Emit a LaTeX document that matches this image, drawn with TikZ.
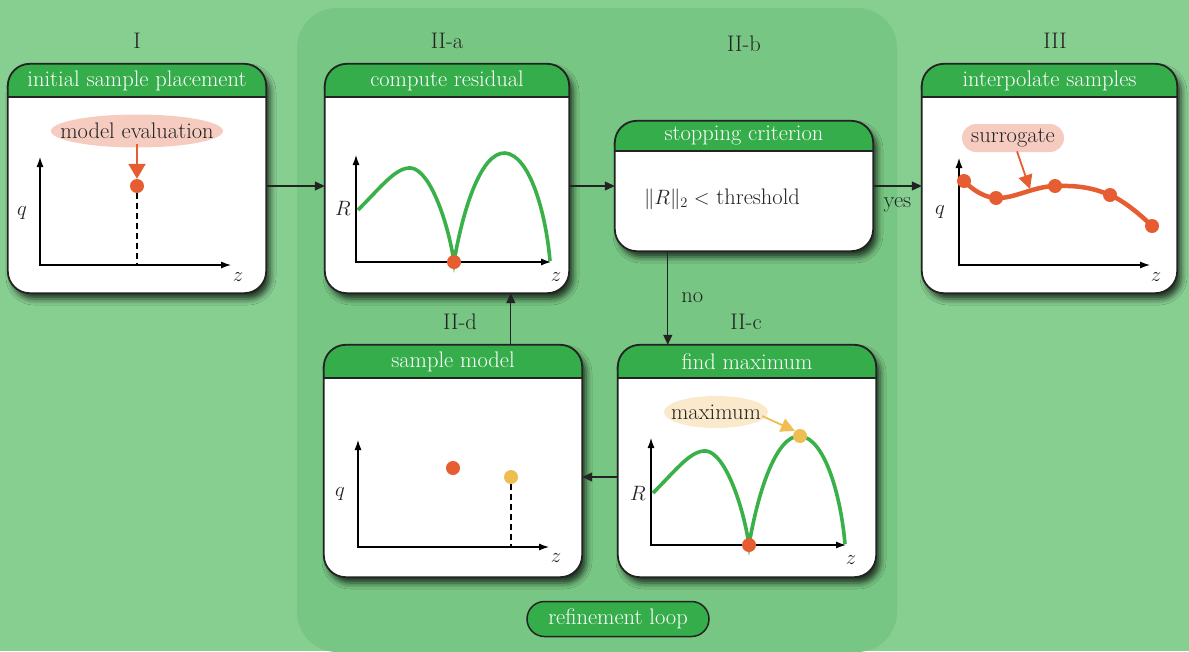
\documentclass[tikz,border=0pt]{standalone}
\usetikzlibrary{arrows.meta,shapes.geometric,shapes.misc,fit,shadows.blur}
\definecolor{bgout}{RGB}{135,206,145}
\definecolor{bgin}{RGB}{119,198,131}
\definecolor{tgreen}{RGB}{53,173,74}
\definecolor{bord}{RGB}{35,35,35}
\definecolor{orng}{RGB}{229,93,48}
\definecolor{cgreen}{RGB}{58,176,72}
\definecolor{yel}{RGB}{238,190,82}
\definecolor{pinkf}{RGB}{246,204,192}
\definecolor{creamf}{RGB}{250,233,203}
\newcommand\mypanel[7]{%
  \node[panelbg, fit={(#2,#3) (#4,#5)}] (#1) {};
  \begin{scope}
    \clip[rounded corners=22pt] (#1.south west) rectangle (#1.north east);
    \fill[tgreen] (#2,#3) rectangle (#4,#6);
  \end{scope}
  \draw[bordline] (#2,#6) -- (#4,#6);
  \draw[bordline, rounded corners=22pt] (#1.south west) rectangle (#1.north east);
  \node[ttext] (#1t) at ({(#2+#4)/2},{(#3+#6)/2}) {#7};
}
\newcommand\myaxes[4]{\draw[axis] (#1,#3) |- (#4,#2);}
\newcommand\residcurve{%
  \draw[curve] (358,210) .. controls (382,186) and (396,167) .. (411,168)
    .. controls (430,170) and (448,222) .. (454,262)
    .. controls (462,214) and (480,152) .. (505,153)
    .. controls (530,155) and (546,214) .. (550,261);}
\begin{document}
\begin{tikzpicture}[x=1pt,y=-1pt,
  font=\fontsize{22.5}{26}\selectfont,
  panelbg/.style={inner sep=0pt, fill=white, rounded corners=22pt,
    blur shadow={shadow xshift=4pt, shadow yshift=-6pt, shadow blur radius=6pt, shadow opacity=75}},
  bordline/.style={draw=bord, line width=1.8pt},
  ttext/.style={text=white, inner sep=0pt, anchor=center},
  axis/.style={black, line width=1.1pt, {Latex[length=10pt,width=7pt]}-{Latex[length=10pt,width=7pt]}},
  conn/.style={draw=bord, line width=1.1pt, -{Triangle[length=10pt,width=9pt]}},
  curve/.style={cgreen, line width=3.6pt},
  dashline/.style={black, line width=1.1pt, dash pattern=on 6pt off 4pt},
  odot/.style={circle, fill=orng, minimum size=14pt, inner sep=0pt},
  ydot/.style={circle, fill=yel, minimum size=14pt, inner sep=0pt},
  lbl/.style={text=bord, inner sep=1pt},
  bubtext/.style={text=bord, inner sep=1pt},
  pill/.style={rounded rectangle, fill=tgreen, draw=bord, line width=1.5pt, text=white, minimum width=186pt, minimum height=35pt, inner sep=2pt}
]
\useasboundingbox (0,0) rectangle (1189,651);
\fill[bgout] (0,0) rectangle (1189,651);
\fill[bgin, rounded corners=40pt] (297,8) rectangle (897,652);

% panels
\mypanel{p1}{8}{64}{266}{293}{97}{initial sample placement}
\mypanel{p2}{325}{64}{569}{293}{97}{compute residual}
\mypanel{p3}{615}{121}{873}{251}{151}{stopping criterion}
\mypanel{p6}{922}{64}{1177}{293}{97}{interpolate samples}
\mypanel{p4}{324}{345}{582}{577}{378}{sample model}
\mypanel{p5}{618}{345}{876}{577}{378}{find maximum}

% stage labels
\node[lbl] (l1) at (137,41) {I};
\node[lbl] (l2a) at (447,41) {II-a};
\node[lbl] (l2b) at (744,44) {II-b};
\node[lbl] (l3) at (1055,41) {III};
\node[lbl] (l2d) at (460,322) {II-d};
\node[lbl] (l2c) at (746,322) {II-c};

% connectors
\draw[conn] (p1.east |- p3.center) -- (p2.west |- p3.center);
\draw[conn] (p2.east |- p3.center) -- (p3.west);
\draw[conn] (p3.east) -- (p6.west |- p3.center) node[lbl, pos=0.5, below=10pt] (yes) {yes};
\draw[conn] ([xshift=53pt]p3.south west) -- ([xshift=50pt]p5.north west) node[lbl, pos=0.5, right=12pt] (no) {no};
\draw[conn] ([yshift=-16pt]p5.west) -- ([yshift=-16pt]p4.east);
\draw[conn] ([xshift=187pt]p4.north west) -- ([xshift=186pt]p2.south west);

% panel I content
\myaxes{40}{265}{157}{231}
\node[lbl] (q1) at (22,213) {$q$};
\node[lbl] (z1) at (238,277) {$z$};
\fill[pinkf] (137,131) ellipse (86 and 16.5);
\node[bubtext] (me) at (137,131) {model evaluation};
\node[odot] (d1) at (137,186) {};
\draw[dashline] (d1.south) -- (137,265);
\draw[orng, line width=2pt, -{Triangle[length=15pt,width=17pt]}] ([yshift=-4pt]me.south) -- (d1.north);

% panel II-a content
\myaxes{356}{262}{155}{551}
\node[lbl] (r2) at (343,208) {$R$};
\node[lbl] (z2) at (556,277) {$z$};
\residcurve
\node[odot] (d2) at (454,262) {};

% panel II-b content
\node[lbl] (crit) at (722,199) {$\|R\|_2 <$ threshold};

% panel III content
\myaxes{959}{265}{158}{1150}
\node[lbl] (q3) at (940,212) {$q$};
\node[lbl] (z3) at (1156,277) {$z$};
\draw[orng, line width=4.5pt] plot[smooth, tension=0.7] coordinates {(964,181) (996,198) (1055,186) (1110,195) (1152,226)};
\foreach \p/\n in {{(964,181)}/s1,{(996,198)}/s2,{(1055,186)}/s3,{(1110,195)}/s4,{(1152,226)}/s5}
  \node[odot] (\n) at \p {};
\fill[pinkf, rounded corners=14pt] (962,124) rectangle (1064,152);
\node[bubtext] (sur) at (1013,138) {surrogate};
\coordinate (sc) at (1030,189);
\draw[orng, line width=1.8pt, -{Triangle[length=14pt,width=14pt]}] ([xshift=4pt,yshift=-3pt]sur.south) -- (sc);

% panel II-d content
\myaxes{358}{547}{440}{549}
\node[lbl] (q4) at (340,494) {$q$};
\node[lbl] (z4) at (556,558) {$z$};
\node[odot] (d4a) at (453,468) {};
\node[ydot] (d4b) at (511,477) {};
\draw[dashline] (d4b.south) -- (511,547);

% panel II-c content
\begin{scope}[shift={(295,283)}]
  \myaxes{356}{262}{155}{551}
  \residcurve
\end{scope}
\node[lbl] (r5) at (638,493) {$R$};
\node[lbl] (z5) at (851,560) {$z$};
\node[odot] (d5) at (749,545) {};
\node[ydot] (ymax) at (800,436) {};
\fill[creamf] (716,412) ellipse (52 and 16);
\node[bubtext] (mx) at (716,412) {maximum};
\draw[yel, line width=1.8pt, -{Triangle[length=14pt,width=14pt]}] ([yshift=-4pt]mx.east) -- (ymax.north west);

% loop label
\node[pill] (loop) at (618,619) {refinement loop};
\end{tikzpicture}
\end{document}
